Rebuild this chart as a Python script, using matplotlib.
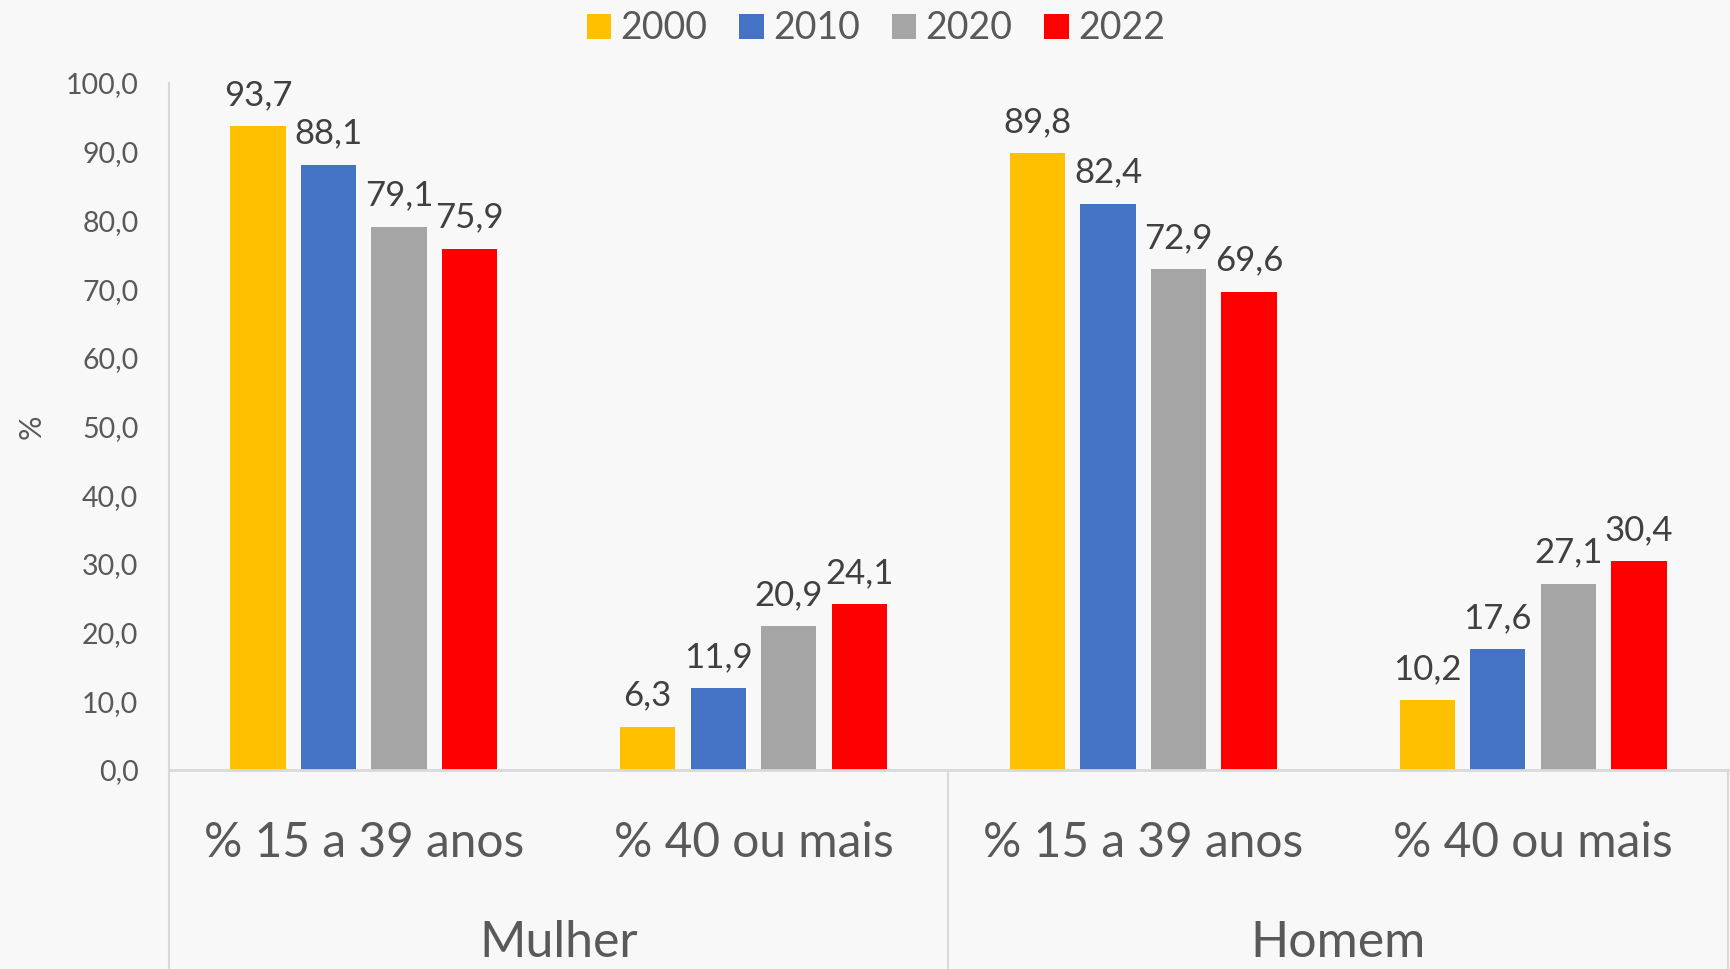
import matplotlib
matplotlib.use("Agg")
import matplotlib.pyplot as plt
import matplotlib.transforms as mtransforms
import numpy as np

plt.rcParams["font.family"] = ["Lato", "DejaVu Sans"]

years = ["2000", "2010", "2020", "2022"]
colors = ["#FFC000", "#4472C4", "#A5A5A5", "#FF0000"]
age_labels = ["% 15 a 39 anos", "% 40 ou mais", "% 15 a 39 anos", "% 40 ou mais"]
sex_labels = ["Mulher", "Homem"]
# rows = years, columns = (Mulher 15-39, Mulher 40+, Homem 15-39, Homem 40+)
values = {
    "2000": [93.7, 6.3, 89.8, 10.2],
    "2010": [88.1, 11.9, 82.4, 17.6],
    "2020": [79.1, 20.9, 72.9, 27.1],
    "2022": [75.9, 24.1, 69.6, 30.4],
}

BG = "#F8F8F8"; LINE = "#D9D9D9"; TXT = "#595959"
fig = plt.figure(figsize=(17.31, 9.69), dpi=100, facecolor=BG)
ax = fig.add_axes([0.0976, 0.2054, 0.9006, 0.709], facecolor=BG)

x = np.arange(4) + 0.5
w = 0.142; step = 0.181
for j, yr in enumerate(years):
    xs = x + (j - 1.5) * step
    ax.bar(xs, values[yr], w, color=colors[j], label=yr, zorder=3)
    for xi, v in zip(xs, values[yr]):
        ax.text(xi, v + 2.2, f"{v:.1f}".replace(".", ","), ha="center", va="bottom",
                fontsize=25, color="#404040")

ax.set_xlim(0, 4); ax.set_ylim(0, 100)
ticks = np.arange(0, 101, 10)
ax.set_yticks(ticks)
ax.set_yticklabels([f"{t:.1f}".replace(".", ",") for t in ticks], fontsize=20.5, color=TXT)
ax.tick_params(axis="y", length=0, pad=22)
ax.set_xticks([])
for s in ["top", "right", "bottom", "left"]:
    ax.spines[s].set_visible(False)

# frame lines: left axis runs down to the figure bottom, separators below the baseline
tr = mtransforms.blended_transform_factory(ax.transData, fig.transFigure)
base_fig = 0.2054
top_fig = 0.2054 + 0.709
for xv, y0 in [(0, top_fig), (2, base_fig), (4, base_fig)]:
    ax.add_line(plt.Line2D([xv, xv], [0, y0], transform=tr, color=LINE, lw=1.5, clip_on=False))
ax.axhline(0, color=LINE, lw=2, zorder=4, clip_on=False)

for xi, lab in zip(x, age_labels):
    ax.text(xi, 0.130, lab, transform=tr, ha="center", va="center", fontsize=34.5, color=TXT)
for xi, lab in zip([1, 3], sex_labels):
    ax.text(xi, 0.027, lab, transform=tr, ha="center", va="center", fontsize=36, color=TXT)

fig.text(0.018, 0.56, "%", rotation=90, ha="center", va="center", fontsize=22, color=TXT)

fig.legend(loc="upper center", bbox_to_anchor=(0.506, 1.024), ncol=4, frameon=False,
           fontsize=27, labelcolor=TXT, handlelength=0.65, handleheight=0.65,
           handletextpad=0.25, columnspacing=0.85)

fig.savefig("out.png", dpi=100, facecolor=BG)
